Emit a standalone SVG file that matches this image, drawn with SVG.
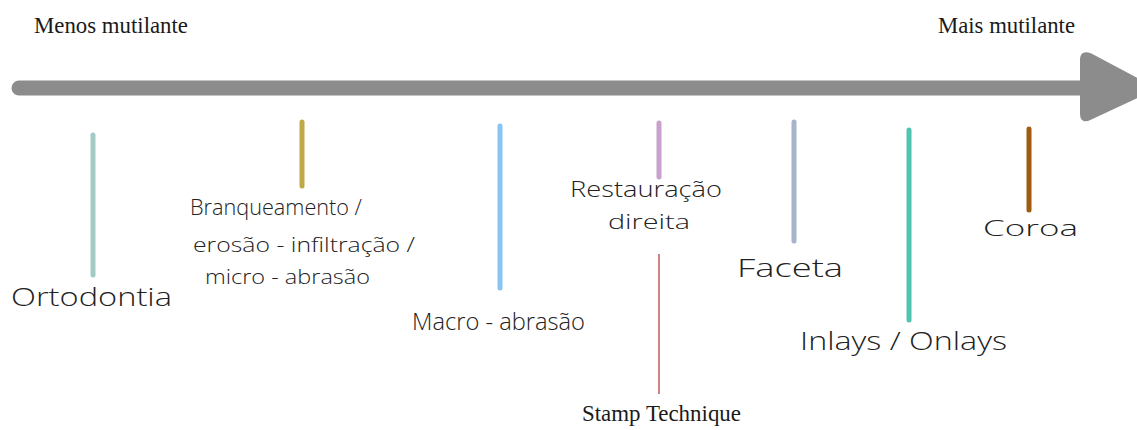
<svg xmlns="http://www.w3.org/2000/svg" width="1137" height="430" viewBox="0 0 1137 430">
<style>
.serif{font-family:"Liberation Serif","Times New Roman",serif;font-size:22.5px;fill:#1a1a1a}
.hand{font-family:"Open Sans","DejaVu Sans",sans-serif;font-weight:300;fill:#222}
.tick{stroke-width:5;stroke-linecap:round;fill:none}
</style>
<rect width="1137" height="430" fill="#fff"/>
<g id="axis">
<line x1="19" y1="88" x2="1090" y2="88" stroke="#8c8c8c" stroke-width="15" stroke-linecap="round"/>
<path d="M1082 60 Q1082 52 1090 55 L1137 80 L1137 96 L1090 118 Q1082 122 1082 114 Z" fill="#8c8c8c" stroke="#8c8c8c" stroke-width="4" stroke-linejoin="round"/>
</g>
<g id="label-menos"><text class="serif" x="34" y="33" textLength="154" lengthAdjust="spacingAndGlyphs">Menos mutilante</text></g>
<g id="label-mais"><text class="serif" x="938" y="33" textLength="137" lengthAdjust="spacingAndGlyphs">Mais mutilante</text></g>
<g id="connectors">
<line class="tick" x1="93" y1="135" x2="93" y2="275" stroke="#a3cbc6"/>
<line class="tick" x1="302" y1="122" x2="302" y2="186" stroke="#c0a848"/>
<line class="tick" x1="500" y1="126" x2="500" y2="288" stroke="#88c4f4"/>
<line class="tick" x1="659" y1="123" x2="659" y2="177" stroke="#c8a2cc"/>
<line x1="659" y1="254" x2="659" y2="394" stroke="#c46464" stroke-width="1.6"/>
<line class="tick" x1="794" y1="122" x2="794" y2="241" stroke="#a8b4ca"/>
<line class="tick" x1="909" y1="130" x2="909" y2="320" stroke="#4fc4b0"/>
<line class="tick" x1="1029" y1="129" x2="1029" y2="210" stroke="#a05a12"/>
</g>
<g id="node-ortodontia"><text class="hand" x="11" y="306" font-size="26" textLength="161" lengthAdjust="spacingAndGlyphs">Ortodontia</text></g>
<g id="node-branqueamento">
<text class="hand" x="190" y="215" font-size="22" textLength="172" lengthAdjust="spacingAndGlyphs">Branqueamento /</text>
<text class="hand" x="193" y="252" font-size="20" textLength="222" lengthAdjust="spacingAndGlyphs">erosão - infiltração /</text>
<text class="hand" x="205" y="284" font-size="20" textLength="165" lengthAdjust="spacingAndGlyphs">micro - abrasão</text>
</g>
<g id="node-macro"><text class="hand" x="412" y="330" font-size="24" textLength="173" lengthAdjust="spacingAndGlyphs">Macro - abrasão</text></g>
<g id="node-restauracao">
<text class="hand" x="570" y="197" font-size="22" textLength="152" lengthAdjust="spacingAndGlyphs">Restauração</text>
<text class="hand" x="608" y="229" font-size="20" textLength="82" lengthAdjust="spacingAndGlyphs">direita</text>
</g>
<g id="node-stamp"><text class="serif" x="582" y="421" textLength="159" lengthAdjust="spacingAndGlyphs">Stamp Technique</text></g>
<g id="node-faceta"><text class="hand" x="737" y="277" font-size="26" textLength="106" lengthAdjust="spacingAndGlyphs">Faceta</text></g>
<g id="node-inlays"><text class="hand" x="800" y="350" font-size="26" textLength="207" lengthAdjust="spacingAndGlyphs">Inlays / Onlays</text></g>
<g id="node-coroa"><text class="hand" x="983" y="236" font-size="22" textLength="95" lengthAdjust="spacingAndGlyphs">Coroa</text></g>
</svg>
